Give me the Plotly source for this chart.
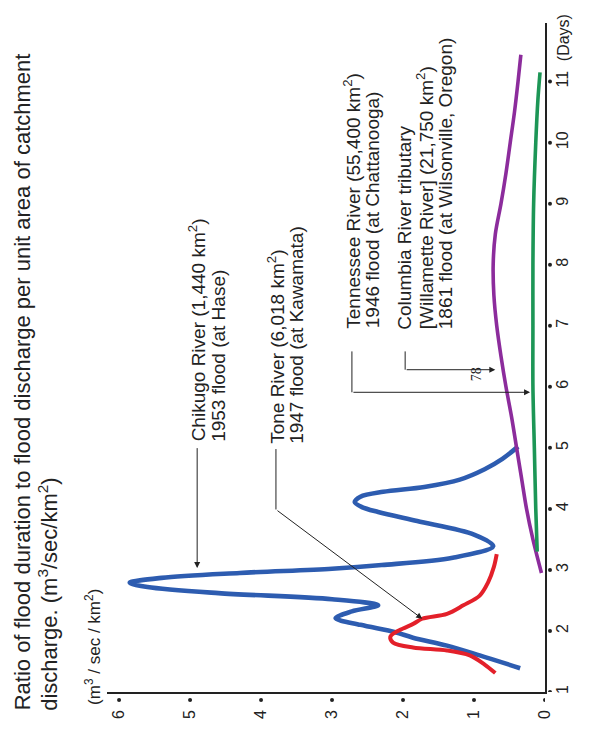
import plotly.graph_objects as go

# ---------------- data ----------------
day_ticks = [1, 2, 3, 4, 5, 6, 7, 8, 9, 10, 11]
q_ticks = [0, 1, 2, 3, 4, 5, 6]

# Chikugo River (1,440 km2), 1953 flood at Hase
chikugo_day = [1.39, 1.60, 1.76, 1.89, 1.98, 2.10, 2.21, 2.32, 2.42, 2.52, 2.62, 2.72, 2.79,
               2.87, 2.95, 3.02, 3.08, 3.20, 3.39, 3.58, 3.80, 3.95, 4.03, 4.11, 4.20, 4.28,
               4.36, 4.48, 4.65, 4.82, 5.02]
chikugo_q = [0.35, 0.92, 1.38, 1.86, 2.11, 2.60, 2.95, 2.72, 2.35, 3.00, 4.60, 5.60, 5.85,
             5.40, 4.30, 3.00, 2.30, 1.30, 0.73, 1.00, 1.80, 2.35, 2.58, 2.68, 2.60, 2.28,
             1.70, 1.20, 0.85, 0.60, 0.38]

# Tone River (6,018 km2), 1947 flood at Kawamata
tone_day = [1.31, 1.45, 1.60, 1.68, 1.73, 1.81, 1.90, 1.97, 2.04, 2.12, 2.20, 2.28, 2.42,
            2.58, 2.80, 3.05, 3.26]
tone_q = [0.70, 0.85, 1.06, 1.38, 1.86, 2.14, 2.18, 2.12, 2.00, 1.85, 1.73, 1.38, 1.15,
          0.92, 0.80, 0.72, 0.68]

# Tennessee River (55,400 km2), 1946 flood at Chattanooga
tennessee_day = [2.95, 3.5, 4.0, 4.5, 5.0, 5.5, 6.0, 6.5, 7.0, 7.5, 8.0, 8.5, 9.0, 9.5,
                 10.0, 10.5, 11.0, 11.44]
tennessee_q = [0.05, 0.17, 0.26, 0.33, 0.40, 0.47, 0.55, 0.62, 0.68, 0.72, 0.73, 0.70,
               0.62, 0.55, 0.49, 0.43, 0.38, 0.34]

# Columbia River tributary (Willamette River, 21,750 km2), 1861 flood at Wilsonville
columbia_day = [3.30, 4.0, 5.0, 6.0, 7.0, 8.0, 9.0, 10.0, 10.7, 11.15]
columbia_q = [0.11, 0.13, 0.15, 0.17, 0.17, 0.17, 0.16, 0.13, 0.10, 0.07]

# ---------------- geometry ----------------
W, H = 598, 731
ML, MR, MT, MB = 107, 53, 23, 34
PW, PH = W - ML - MR, H - MT - MB
Q_MAX = 6.17
D_MIN, D_MAX = 1.0, 11.96

INK = "#222222"
FONT = "Liberation Sans, Arial, sans-serif"


def paper(px, py):
    return (px - ML) / PW, (H - MB - py) / PH


fig = go.Figure()

series = [
    (chikugo_q, chikugo_day, "#2d5cb0", 4.6),
    (tone_q, tone_day, "#e3202a", 4.0),
    (tennessee_q, tennessee_day, "#8c2c9c", 3.6),
    (columbia_q, columbia_day, "#1d9656", 3.6),
]
for q, d, col, w in series:
    fig.add_trace(go.Scatter(x=q, y=d, mode="lines",
                             line=dict(color=col, width=w, shape="spline", smoothing=0.9),
                             hoverinfo="skip", showlegend=False))

shapes = []
# dot tick marks sitting just outside both axes
for q in q_ticks:
    shapes.append(dict(type="circle", xref="x", yref="paper", xsizemode="pixel",
                       ysizemode="pixel", xanchor=q, yanchor=0, x0=-2, x1=2, y0=-6, y1=-10,
                       fillcolor=INK, line=dict(width=0)))
for d in day_ticks:
    shapes.append(dict(type="circle", xref="paper", yref="y", xsizemode="pixel",
                       ysizemode="pixel", xanchor=1, yanchor=d, x0=3, x1=7, y0=-2, y1=2,
                       fillcolor=INK, line=dict(width=0)))

annotations = []


def label(text, px, py, size, family=FONT):
    x, y = paper(px, py)
    annotations.append(dict(text=text, x=x, y=y, xref="paper", yref="paper",
                            xanchor="center", yanchor="bottom", textangle=-90,
                            showarrow=False, font=dict(size=size, color=INK, family=family)))


# title
label("Ratio of flood duration to flood discharge per unit area of catchment", 22, 718, 22)
label("discharge. (m<sup>3</sup>/sec/km<sup>2</sup>)", 48, 718, 22)
# unit label for discharge axis
label("(m<sup>3</sup> / sec / km<sup>2</sup>)", 93, 712, 17)
# days axis caption
label("(Days)", 563, 64, 16)
# page number
label("78", 476, 386, 14, family="Liberation Serif, Times New Roman, serif")

# river captions
label("Chikugo River (1,440 km<sup>2</sup>)", 197, 447, 19)
label("1953 flood (at Hase)", 219, 447, 19)
label("Tone River (6,018 km<sup>2</sup>)", 276, 449, 19)
label("1947 flood (at Kawamata)", 297, 449, 19)
label("Tennessee River (55,400 km<sup>2</sup>)", 352, 333, 19)
label("1946 flood (at Chattanooga)", 372, 333, 19)
label("Columbia River tributary", 405, 334, 19)
label("[Willamette River] (21,750 km<sup>2</sup>)", 425, 334, 19)
label("1861 flood (at Wilsonville, Oregon)", 445, 334, 19)

# leader lines (plain segments) and arrowed segments, in data units
leaders = [
    ((3.79, 4.98), (3.79, 3.99)),
    ((2.72, 6.58), (2.72, 5.91)),
    ((1.97, 6.58), (1.97, 6.28)),
]
arrows = [
    ((4.90, 5.02), (4.90, 3.03)),
    ((3.79, 3.99), (1.73, 2.20)),
    ((2.72, 5.91), (0.21, 5.91)),
    ((1.97, 6.28), (0.70, 6.28)),
]
for (x0, y0), (x1, y1) in leaders:
    shapes.append(dict(type="line", xref="x", yref="y", x0=x0, y0=y0, x1=x1, y1=y1,
                       line=dict(color=INK, width=1)))
for (x0, y0), (x1, y1) in arrows:
    annotations.append(dict(text="", x=x1, y=y1, ax=x0, ay=y0, xref="x", yref="y",
                            axref="x", ayref="y", showarrow=True, arrowhead=2,
                            arrowsize=1.2, arrowwidth=1, arrowcolor=INK, standoff=0))

fig.update_layout(
    width=W, height=H,
    margin=dict(l=ML, r=MR, t=MT, b=MB, pad=0),
    paper_bgcolor="white", plot_bgcolor="white",
    font=dict(family=FONT, color=INK),
    annotations=annotations, shapes=shapes,
    xaxis=dict(range=[Q_MAX, 0], showgrid=False, zeroline=False, showline=True,
               linecolor=INK, linewidth=1.5, tickvals=q_ticks,
               ticktext=[str(v) for v in q_ticks], tickangle=-90, ticks="",
               ticklabelstandoff=10, tickfont=dict(size=16, color=INK)),
    yaxis=dict(range=[D_MIN, D_MAX], side="right", showgrid=False, zeroline=False,
               showline=True, linecolor=INK, linewidth=1.5, tickvals=day_ticks,
               ticktext=[str(v) for v in day_ticks], tickangle=-90, ticks="",
               ticklabelstandoff=2, tickfont=dict(size=16, color=INK)),
)

fig.write_html("out.html")
